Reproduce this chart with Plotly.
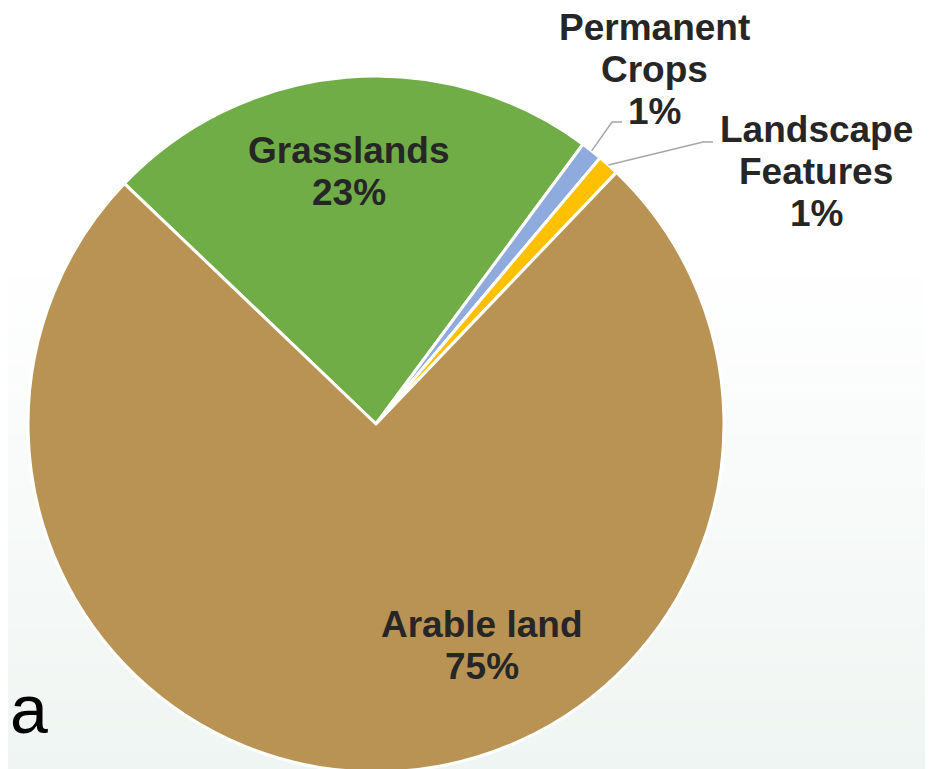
import math
import plotly.graph_objects as go

# ---- data ----
categories = ["Grasslands", "Permanent Crops", "Landscape Features", "Arable land"]
label_lines = [["Grasslands"], ["Permanent", "Crops"], ["Landscape", "Features"], ["Arable land"]]
values = [23, 1, 1, 75]
pct_labels = ["23%", "1%", "1%", "75%"]
colors = ["#70AD47", "#8FAADC", "#FFC000", "#B99353"]

W, H = 933, 769
OFF = 8  # page body margin: screen position = figure position + OFF
FONT = "Liberation Sans, Arial, sans-serif"
TXT = "#262626"

# pie geometry in screen pixels
cx, cy, R = 376, 424, 348
rotation = -46.3


def px(x):
    return (x - OFF) / W


def py(y):
    return 1 - (y - OFF) / H


fig = go.Figure()
fig.add_trace(go.Pie(
    labels=categories,
    values=values,
    sort=False,
    direction="clockwise",
    rotation=rotation,
    marker=dict(colors=colors, line=dict(color="white", width=3)),
    textinfo="none",
    hoverinfo="label+percent",
    domain=dict(x=[px(cx - R), px(cx + R)], y=[py(cy + R), py(cy - R)]),
    showlegend=False,
))

# background gradient bands
shapes = []
n = 60
y0g = 250
ybot = H + OFF
top = (255, 255, 255)
bot = (239, 245, 242)
for i in range(n):
    ya = y0g + (ybot - y0g) * i / n
    yb = y0g + (ybot - y0g) * (i + 1) / n
    t = (i + 0.5) / n
    c = tuple(round(top[k] + (bot[k] - top[k]) * t) for k in range(3))
    shapes.append(dict(type="rect", xref="paper", yref="paper", layer="below",
                       x0=0, x1=1, y0=py(yb), y1=py(ya) + 0.0005,
                       fillcolor="rgb(%d,%d,%d)" % c, line=dict(width=0)))

# label placements (center x, first baseline y) in screen pixels
label_pos = {
    "Grasslands": (349, 163),
    "Permanent Crops": (654, 40),
    "Landscape Features": (816, 142),
    "Arable land": (482, 637),
}
elbows = {
    "Permanent Crops": ((612, 122), (622, 122)),
    "Landscape Features": ((703, 142), (713, 142)),
}

FS = 37
LS = 42
annotations = []
total = sum(values)
cum = 0
for cat, lines, v, p in zip(categories, label_lines, values, pct_labels):
    mid = rotation + 360 * (cum + v / 2) / total
    cum += v
    bx, by = label_pos[cat]
    all_lines = lines + [p]
    for j, ln in enumerate(all_lines):
        base = by + j * LS
        annotations.append(dict(
            x=px(bx), y=py(base - 0.35 * FS), xref="paper", yref="paper",
            text="<b>%s</b>" % ln, showarrow=False, xanchor="center", yanchor="middle",
            font=dict(family=FONT, size=FS, color=TXT)))
    if cat in elbows:
        a = math.radians(mid)
        ex, ey = cx + R * math.sin(a), cy - R * math.cos(a)
        (k1x, k1y), (k2x, k2y) = elbows[cat]
        path = "M %f %f L %f %f L %f %f" % (px(ex), py(ey), px(k1x), py(k1y), px(k2x), py(k2y))
        shapes.append(dict(type="path", xref="paper", yref="paper", path=path,
                           line=dict(color="#A6A6A6", width=1.5)))

annotations.append(dict(x=0, y=py(733 - 0.35 * 68), xref="paper", yref="paper",
                        text="a", showarrow=False, xanchor="left", yanchor="middle",
                        font=dict(family=FONT, size=68, color="#000000")))

fig.update_layout(
    width=W, height=H,
    margin=dict(l=0, r=0, t=0, b=0),
    paper_bgcolor="white",
    plot_bgcolor="white",
    shapes=shapes,
    annotations=annotations,
)

fig.write_html("out.html")
